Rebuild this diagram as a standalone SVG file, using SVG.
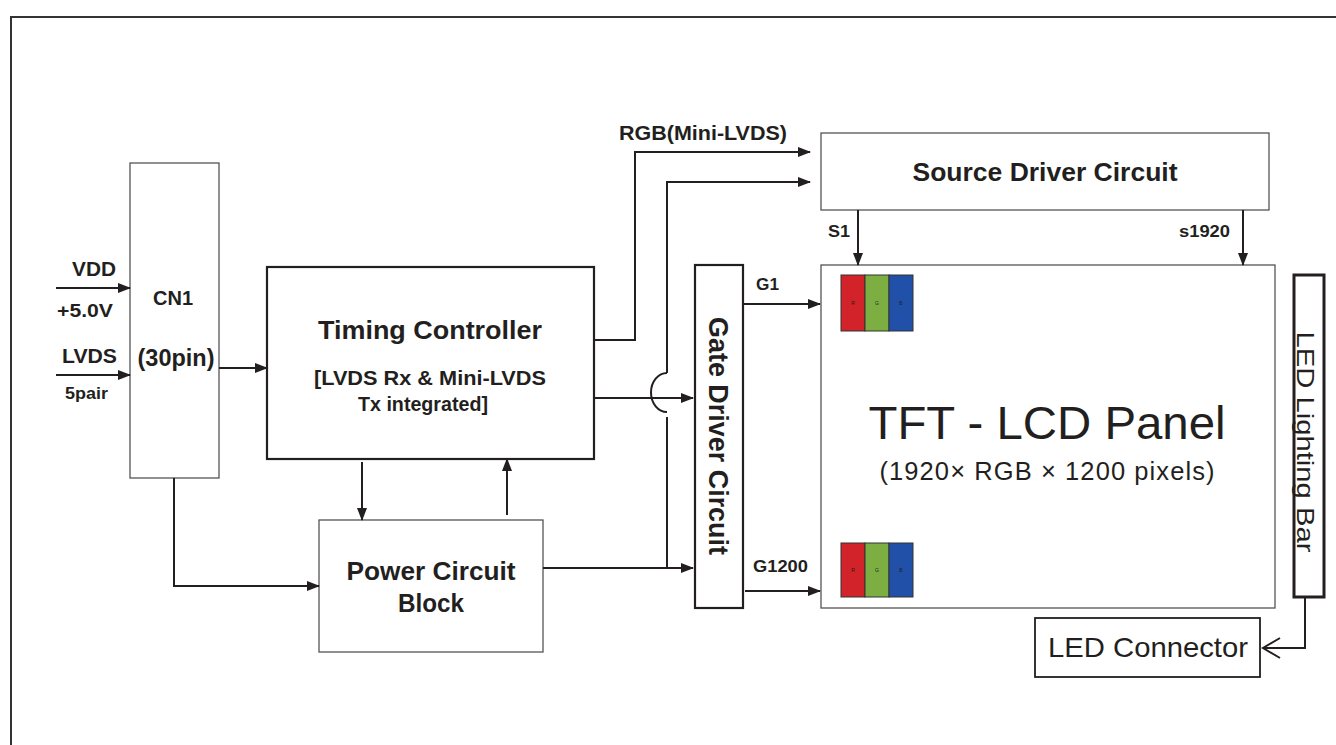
<svg xmlns="http://www.w3.org/2000/svg" width="1336" height="745" viewBox="0 0 1336 745">
<style>
  .b { font-family: "Liberation Sans", Arial, sans-serif; font-weight: bold; fill: #231f20; }
  .r { font-family: "Liberation Sans", Arial, sans-serif; fill: #231f20; }
  .thin { fill: #fff; stroke: #555; stroke-width: 1.3; }
  .thick { fill: #fff; stroke: #231f20; stroke-width: 2.2; }
  .ln { fill: none; stroke: #231f20; stroke-width: 2; }
  .ar { fill: none; stroke: #231f20; stroke-width: 2; marker-end: url(#ah); }
</style>
<defs>
  <marker id="ah" markerWidth="13" markerHeight="10" refX="12" refY="5" orient="auto" markerUnits="userSpaceOnUse">
    <path d="M0,0 L13,5 L0,10 z" fill="#231f20"/>
  </marker>
</defs>
<rect width="1336" height="745" fill="#fff"/>
<rect x="11" y="17" width="1340" height="740" fill="none" stroke="#333" stroke-width="2"/>

<g id="cn1">
  <rect class="thin" x="130" y="163" width="89" height="315"/>
  <text class="b" x="173" y="305" font-size="21" text-anchor="middle" textLength="40" lengthAdjust="spacingAndGlyphs">CN1</text>
  <text class="b" x="176" y="366" font-size="24" text-anchor="middle" textLength="77" lengthAdjust="spacingAndGlyphs">(30pin)</text>
</g>
<g id="timing">
  <rect class="thick" x="267" y="267" width="327" height="192"/>
  <text class="b" x="430" y="339" font-size="25" text-anchor="middle" textLength="224" lengthAdjust="spacingAndGlyphs">Timing Controller</text>
  <text class="b" x="430" y="385" font-size="19.5" text-anchor="middle" textLength="232" lengthAdjust="spacingAndGlyphs">[LVDS Rx &amp; Mini-LVDS</text>
  <text class="b" x="423" y="411" font-size="19.5" text-anchor="middle" textLength="130" lengthAdjust="spacingAndGlyphs">Tx integrated]</text>
</g>
<g id="power">
  <rect class="thin" x="319" y="520" width="224" height="132"/>
  <text class="b" x="431" y="580" font-size="25" text-anchor="middle" textLength="169" lengthAdjust="spacingAndGlyphs">Power Circuit</text>
  <text class="b" x="431" y="612" font-size="25" text-anchor="middle" textLength="66" lengthAdjust="spacingAndGlyphs">Block</text>
</g>
<g id="source">
  <rect class="thin" x="821" y="133" width="448" height="77"/>
  <text class="b" x="1045" y="181" font-size="25" text-anchor="middle" textLength="265" lengthAdjust="spacingAndGlyphs">Source Driver Circuit</text>
</g>
<g id="gate">
  <rect class="thick" x="695" y="265" width="48" height="343"/>
  <text class="b" font-size="27" text-anchor="middle" textLength="238" lengthAdjust="spacingAndGlyphs" transform="translate(709,436) rotate(90)">Gate Driver Circuit</text>
</g>
<g id="panel">
  <rect class="thin" x="821" y="265" width="454" height="343"/>
  <text class="r" x="1047" y="439" font-size="47" text-anchor="middle" textLength="357" lengthAdjust="spacingAndGlyphs">TFT - LCD Panel</text>
  <text class="r" x="1047" y="480" font-size="25.5" text-anchor="middle" textLength="335" lengthAdjust="spacing">(1920× RGB × 1200 pixels)</text>
  <g id="pix-top" stroke="#333" stroke-width="1">
    <rect x="841" y="275" width="24" height="56" fill="#d2232a"/>
    <rect x="865" y="275" width="24" height="56" fill="#7cae42"/>
    <rect x="889" y="275" width="24" height="56" fill="#2150a8"/>
  </g>
  <g id="pix-bot" stroke="#333" stroke-width="1">
    <rect x="841" y="543" width="24" height="54" fill="#d2232a"/>
    <rect x="865" y="543" width="24" height="54" fill="#7cae42"/>
    <rect x="889" y="543" width="24" height="54" fill="#2150a8"/>
  </g>
  <g class="r" font-size="5" text-anchor="middle" fill="#333">
    <text x="853" y="305">R</text><text x="877" y="305">G</text><text x="901" y="305">B</text>
    <text x="853" y="572">R</text><text x="877" y="572">G</text><text x="901" y="572">B</text>
  </g>
</g>
<g id="ledbar">
  <rect x="1294" y="275" width="30" height="322" fill="#fff" stroke="#231f20" stroke-width="3"/>
  <text class="r" font-size="24" text-anchor="middle" textLength="221" lengthAdjust="spacingAndGlyphs" transform="translate(1297,442) rotate(90)">LED Lighting Bar</text>
</g>
<g id="ledconn">
  <rect x="1035" y="618" width="225" height="59" fill="#fff" stroke="#231f20" stroke-width="1.8"/>
  <text class="r" x="1148" y="657" font-size="28" text-anchor="middle" textLength="200" lengthAdjust="spacingAndGlyphs">LED Connector</text>
</g>

<g id="connectors">
  <path class="ar" d="M56,288 H130"/>
  <path class="ar" d="M56,375 H130"/>
  <path class="ar" d="M219,368 H267"/>
  <path class="ar" d="M362,462 V520"/>
  <path class="ar" d="M507,515 V459"/>
  <path class="ar" d="M174,478 V586 H319"/>
  <path class="ar" d="M594,340 H635 V152 H810"/>
  <path class="ar" d="M667,373 V182 H810"/>
  <path class="ln" d="M667,373 A16,19.5 0 0 0 667,412"/>
  <path class="ln" d="M667,417 V568"/>
  <path class="ar" d="M594,398 H693"/>
  <path class="ar" d="M543,568 H693"/>
  <path class="ar" d="M743,304 H820"/>
  <path class="ar" d="M745,591 H820"/>
  <path class="ar" d="M858,210 V265"/>
  <path class="ar" d="M1243,210 V265"/>
  <path class="ln" d="M1305,597 V648 H1263"/>
  <path class="ln" d="M1280,638 L1263,648 L1280,658"/>
</g>

<g id="labels">
  <text class="b" x="72" y="276" font-size="21" textLength="44" lengthAdjust="spacingAndGlyphs">VDD</text>
  <text class="b" x="57" y="317" font-size="18" textLength="56" lengthAdjust="spacingAndGlyphs">+5.0V</text>
  <text class="b" x="62" y="363" font-size="21" textLength="55" lengthAdjust="spacingAndGlyphs">LVDS</text>
  <text class="b" x="65" y="399" font-size="17" textLength="43" lengthAdjust="spacingAndGlyphs">5pair</text>
  <text class="b" x="619" y="140" font-size="20" textLength="168" lengthAdjust="spacingAndGlyphs">RGB(Mini-LVDS)</text>
  <text class="b" x="828" y="237" font-size="17" textLength="22" lengthAdjust="spacingAndGlyphs">S1</text>
  <text class="b" x="1179" y="237" font-size="17" textLength="51" lengthAdjust="spacingAndGlyphs">s1920</text>
  <text class="b" x="756" y="290" font-size="17" textLength="23" lengthAdjust="spacingAndGlyphs">G1</text>
  <text class="b" x="753" y="572" font-size="17" textLength="55" lengthAdjust="spacingAndGlyphs">G1200</text>
</g>
</svg>
